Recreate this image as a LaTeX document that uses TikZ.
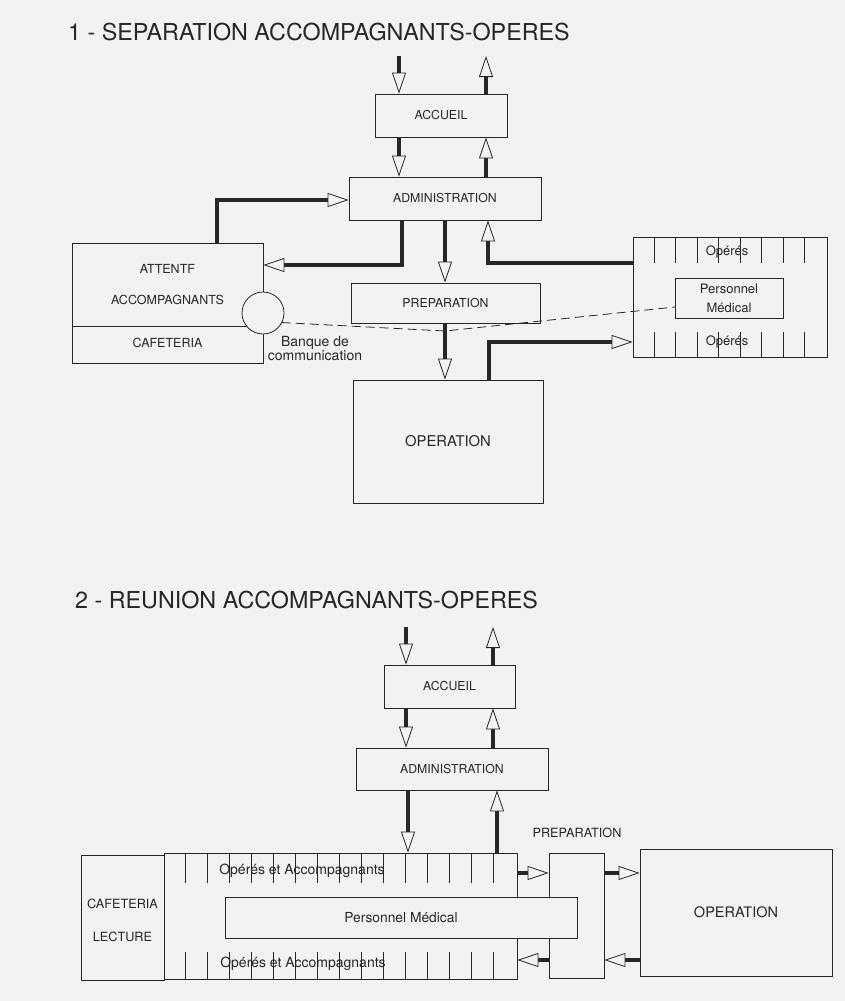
\documentclass[tikz,border=0pt]{standalone}
\usepackage{fontspec}
\setmainfont{TeX Gyre Heros}
\usetikzlibrary{arrows.meta,calc}
\definecolor{paper}{RGB}{242,242,240}
\definecolor{ink}{RGB}{38,38,38}
\begin{document}
\begin{tikzpicture}[x=1pt,y=-1pt,
  box/.style={draw=ink, line width=0.8pt, rectangle, inner sep=0pt, text=ink,
              font=\fontsize{12.3}{14}\selectfont},
  lbl/.style={text=ink, inner sep=0pt, font=\fontsize{12.5}{14}\selectfont},
  heading/.style={text=ink, inner sep=0pt, anchor=base west, font=\fontsize{23.3}{26}\selectfont},
  flow/.style={draw=ink, line width=4pt,
               -{Triangle[length=21pt,width=14pt,line width=0.8pt,fill=paper]}},
  tick/.style={draw=ink, line width=0.7pt},
  link/.style={draw=ink, line width=0.8pt, dash pattern=on 9pt off 5pt},
]
\path[use as bounding box, fill=paper] (0,0) rectangle (845,1001);

% ---------------- 1 : separation ----------------
\node[heading] (t1) at (68,40) {1 - SEPARATION ACCOMPAGNANTS-OPERES};

\node[box, minimum width=132pt, minimum height=43pt] (acc1) at (441,115.5) {ACCUEIL};
\node[box, minimum width=192pt, minimum height=43pt] (adm1) at (445,198.5) {ADMINISTRATION};
\node[box, minimum width=189pt, minimum height=40pt] (prep1) at (445.5,303) {PREPARATION};
\node[box, minimum width=190pt, minimum height=123pt, font=\fontsize{14.8}{16}\selectfont] (op1) at (448,441.5) {OPERATION};

% waiting room for relatives
\node[box, minimum width=191pt, minimum height=120pt] (att1) at (167.5,303) {};
\coordinate (dv) at (72,326);
\draw[ink, line width=0.8pt] (att1.west |- dv) -- (att1.east |- dv);
\node[lbl] (att1a) at (167.5,269) {ATTENTF};
\node[lbl] (att1b) at (167.5,300) {ACCOMPAGNANTS};
\node[lbl] (att1c) at (167.5,343) {CAFETERIA};

% patients' rooms with the medical staff in the middle
\node[box, minimum width=194pt, minimum height=120pt] (opr1) at (730,297) {};
\foreach \k in {1,...,8} {
  \draw[tick] ($(opr1.north west)+(21.5*\k,0)$) -- ++(0,26);
  \draw[tick] ($(opr1.south west)+(21.5*\k,0)$) -- ++(0,-25);
}
\node[lbl, font=\fontsize{13}{15}\selectfont] (opr1a) at (727,252) {Opérés};
\node[lbl, font=\fontsize{13}{15}\selectfont] (opr1b) at (727,342) {Opérés};
\node[box, minimum width=108pt, minimum height=40pt, align=center, fill=paper,
      font=\fontsize{13}{19}\selectfont] (pm1) at (729,298) {Personnel\\Médical};

% communication link
\coordinate (dk) at (445,331);
\coordinate (dend) at (675,307);
\draw[link] (263,313) ++(27:21) -- (dk) -- (dend);
\node[draw=ink, line width=0.8pt, circle, fill=paper, minimum size=42pt, inner sep=0pt] (bq) at (263,313) {};
\node[lbl, align=center, font=\fontsize{14}{14}\selectfont] (bql) at (315,348) {Banque de\\communication};

% flows
\coordinate (in1) at (399,56);
\coordinate (out1) at (486,56);
\draw[flow] (in1) -- (acc1.north -| in1);
\draw[flow] (acc1.north -| out1) -- (out1);
\draw[flow] (acc1.south -| in1) -- (adm1.north -| in1);
\draw[flow] (adm1.north -| out1) -- (acc1.south -| out1);
\coordinate (j0) at (217,200);
\draw[flow] (att1.north -| j0) |- (adm1.west |- j0);
\coordinate (j1) at (402,265);
\draw[flow] (adm1.south -| j1) |- (att1.east |- j1);
\draw[flow] (adm1.south) -- (prep1.north -| adm1.south);
\draw[flow] (prep1.south -| adm1.south) -- (op1.north -| adm1.south);
\coordinate (j2) at (489,342);
\draw[flow] (op1.north -| j2) |- (opr1.west |- j2);
\coordinate (j3) at (488,263);
\draw[flow] (opr1.west |- j3) -| (adm1.south -| j3);

% ---------------- 2 : reunion ----------------
\node[heading] (t2) at (75,608) {2 - REUNION ACCOMPAGNANTS-OPERES};

\node[box, minimum width=131pt, minimum height=43pt] (acc2) at (449.5,686.5) {ACCUEIL};
\node[box, minimum width=192pt, minimum height=42pt] (adm2) at (452,769) {ADMINISTRATION};

\node[box, minimum width=83pt, minimum height=125pt] (caf2) at (122.5,917.5) {};
\node[lbl, font=\fontsize{12.7}{14}\selectfont] (caf2a) at (122.5,904) {CAFETERIA};
\node[lbl, font=\fontsize{12.7}{14}\selectfont] (caf2b) at (122.5,937) {LECTURE};

\node[box, minimum width=353pt, minimum height=126pt] (oa2) at (340.5,916) {};
\foreach \k in {1,...,15} {
  \draw[tick] ($(oa2.north west)+(22*\k,0)$) -- ++(0,30);
  \draw[tick] ($(oa2.south west)+(22*\k,0)$) -- ++(0,-27);
}
\node[lbl, font=\fontsize{14}{15}\selectfont] (oa2a) at (302,871) {Opérés et Accompagnants};
\node[lbl, font=\fontsize{14}{15}\selectfont] (oa2b) at (303,964) {Opérés et Accompagnants};

\node[box, minimum width=55pt, minimum height=125pt] (prep2) at (576.5,915.5) {};
\node[lbl, font=\fontsize{12.7}{14}\selectfont] (prep2l) at (577,833) {PREPARATION};
\node[box, minimum width=352pt, minimum height=41pt, fill=paper,
      font=\fontsize{13.8}{15}\selectfont] (pm2) at (401,917.5) {Personnel Médical};
\node[box, minimum width=192pt, minimum height=127pt, font=\fontsize{14.5}{16}\selectfont] (op2) at (736,912.5) {OPERATION};

\coordinate (in2) at (406,627);
\coordinate (out2) at (493,627);
\draw[flow] (in2) -- (acc2.north -| in2);
\draw[flow] (acc2.north -| out2) -- (out2);
\draw[flow] (acc2.south -| in2) -- (adm2.north -| in2);
\draw[flow] (adm2.north -| out2) -- (acc2.south -| out2);
\coordinate (k1) at (408,0);
\coordinate (k2) at (497,0);
\draw[flow] (adm2.south -| k1) -- (oa2.north -| k1);
\draw[flow] (oa2.north -| k2) -- (adm2.south -| k2);

\coordinate (r1) at (0,873);
\coordinate (r2) at (0,960);
\draw[flow] (oa2.east |- r1) -- (prep2.west |- r1);
\draw[flow] (prep2.east |- r1) -- (op2.west |- r1);
\draw[flow] (op2.west |- r2) -- (prep2.east |- r2);
\draw[flow] (prep2.west |- r2) -- (oa2.east |- r2);
\end{tikzpicture}
\end{document}
